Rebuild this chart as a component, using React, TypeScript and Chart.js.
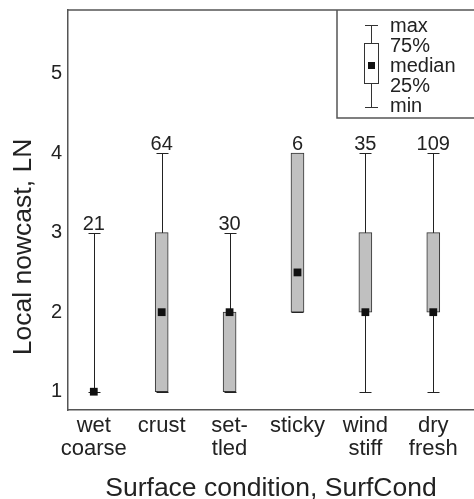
import React, { useEffect, useRef } from "react";
import { Chart, registerables } from "chart.js";

Chart.register(...registerables);

// ---- data ----
const categories: string[][] = [
  ["wet", "coarse"],
  ["crust"],
  ["set-", "tled"],
  ["sticky"],
  ["wind", "stiff"],
  ["dry", "fresh"],
];
const minValues = [1, 1, 1, 2, 1, 1];
const q1Values = [1, 1, 1, 2, 2, 2];
const medianValues = [1, 2, 2, 2.5, 2, 2];
const q3Values = [1, 3, 2, 4, 3, 3];
const maxValues = [3, 4, 3, 4, 4, 4];
const counts = [21, 64, 30, 6, 35, 109];
const yTicks = [1, 2, 3, 4, 5];
const legendLabels = ["max", "75%", "median", "25%", "min"];
const xTitle = "Surface condition, SurfCond";
const yTitle = "Local nowcast, LN";

const FONT = "'Liberation Sans', Arial, sans-serif";
const TEXT = "#222";
const FRAME = "#555";

const boxPlugin = {
  id: "boxExtras",
  beforeDatasetsDraw(chart: any) {
    const { ctx, scales } = chart;
    const xs = scales.x;
    const ys = scales.y;
    ctx.save();
    ctx.strokeStyle = "#222";
    ctx.lineWidth = 1;
    categories.forEach((_, i) => {
      const x = Math.round(xs.getPixelForValue(i)) + 0.5;
      const yMin = Math.round(ys.getPixelForValue(minValues[i])) + 0.5;
      const yMax = Math.round(ys.getPixelForValue(maxValues[i])) + 0.5;
      ctx.beginPath();
      ctx.moveTo(x, yMin);
      ctx.lineTo(x, yMax);
      ctx.moveTo(x - 6, yMin);
      ctx.lineTo(x + 6, yMin);
      ctx.moveTo(x - 6, yMax);
      ctx.lineTo(x + 6, yMax);
      ctx.stroke();
    });
    ctx.restore();
  },
  afterDatasetsDraw(chart: any) {
    const { ctx, scales } = chart;
    const xs = scales.x;
    const ys = scales.y;
    ctx.save();
    ctx.fillStyle = TEXT;
    ctx.font = `20px ${FONT}`;
    ctx.textAlign = "center";
    ctx.textBaseline = "alphabetic";
    categories.forEach((_, i) => {
      const x = xs.getPixelForValue(i);
      const y = ys.getPixelForValue(maxValues[i]) - 3;
      ctx.fillText(String(counts[i]), x, y);
    });
    ctx.restore();
  },
  afterDraw(chart: any) {
    const { ctx, chartArea } = chart;
    ctx.save();
    // top frame line
    ctx.strokeStyle = FRAME;
    ctx.lineWidth = 1.5;
    ctx.beginPath();
    ctx.moveTo(chartArea.left, chartArea.top);
    ctx.lineTo(chartArea.right, chartArea.top);
    ctx.stroke();

    // legend box
    const lx = 337;
    const lb = 118;
    ctx.beginPath();
    ctx.moveTo(lx, chartArea.top);
    ctx.lineTo(lx, lb);
    ctx.lineTo(chartArea.right, lb);
    ctx.stroke();

    // legend glyph
    const cx = 371.5;
    ctx.strokeStyle = "#333";
    ctx.lineWidth = 1;
    ctx.beginPath();
    ctx.moveTo(cx, 25.5);
    ctx.lineTo(cx, 107.5);
    ctx.moveTo(cx - 6.5, 25.5);
    ctx.lineTo(cx + 6.5, 25.5);
    ctx.moveTo(cx - 6.5, 107.5);
    ctx.lineTo(cx + 6.5, 107.5);
    ctx.stroke();
    ctx.fillStyle = "#fff";
    ctx.fillRect(364.5, 43.5, 14, 40);
    ctx.strokeRect(364.5, 43.5, 14, 40);
    ctx.fillStyle = "#111";
    ctx.fillRect(368, 62, 7, 7);

    ctx.fillStyle = TEXT;
    ctx.font = `20px ${FONT}`;
    ctx.textAlign = "left";
    ctx.textBaseline = "alphabetic";
    legendLabels.forEach((t, i) => {
      ctx.fillText(t, 390, 32 + i * 20);
    });

    // y axis title
    ctx.font = `26.5px ${FONT}`;
    ctx.textAlign = "center";
    ctx.translate(31, 247);
    ctx.rotate(-Math.PI / 2);
    ctx.fillText(yTitle, 0, 0);
    ctx.restore();
  },
};

export default function App() {
  const ref = useRef<HTMLCanvasElement>(null);
  useEffect(() => {
    document.body.style.margin = "0";
    document.body.style.overflow = "hidden";
    Chart.defaults.font.family = FONT;
    const chart = new Chart(ref.current as HTMLCanvasElement, {
      type: "bar",
      data: {
        datasets: [
          {
            type: "scatter",
            data: medianValues.map((m, i) => ({ x: i, y: m })),
            pointStyle: "rect",
            pointRadius: 5.5,
            pointHoverRadius: 5.5,
            backgroundColor: "#111",
            borderWidth: 0,
            order: 0,
          } as any,
          {
            type: "bar",
            data: categories.map((_, i) => ({ x: i, y: [q1Values[i], q3Values[i]] })),
            backgroundColor: "#c0c0c0",
            borderColor: "#333",
            borderWidth: 1,
            borderSkipped: false,
            barThickness: 13,
            order: 1,
          } as any,
        ],
      },
      options: {
        animation: false,
        responsive: false,
        layout: { autoPadding: false, padding: { top: 10, left: 0, right: 0, bottom: 0 } },
        plugins: { legend: { display: false }, tooltip: { enabled: false } },
        scales: {
          x: {
            type: "linear",
            offset: false,
            min: -0.38,
            max: 5.6,
            afterBuildTicks: (ax: any) => {
              ax.ticks = categories.map((_, i) => ({ value: i }));
            },
            afterFit: (ax: any) => {
              ax.height = 89;
              ax.paddingRight = 0;
              ax.paddingLeft = 0;
            },
            ticks: {
              callback: (_v: any, i: number) => categories[i],
              font: { size: 22, lineHeight: 1.05 },
              color: TEXT,
              padding: 4,
              maxRotation: 0,
              autoSkip: false,
            },
            grid: { display: false, drawTicks: false, tickLength: 0, offset: false },
            border: { display: true, color: FRAME, width: 1.5 },
            title: {
              display: true,
              text: xTitle,
              font: { size: 26.5, lineHeight: 1 },
              color: TEXT,
              padding: { top: 0, bottom: -3 },
            },
          },
          y: {
            type: "linear",
            min: 0.77,
            max: 5.8,
            afterBuildTicks: (ax: any) => {
              ax.ticks = yTicks.map((v) => ({ value: v }));
            },
            afterFit: (ax: any) => {
              ax.width = 68;
              ax.paddingTop = 0;
              ax.paddingBottom = 0;
            },
            ticks: { font: { size: 20 }, color: TEXT, padding: 6 },
            grid: { display: false, drawTicks: false, tickLength: 0 },
            border: { display: true, color: FRAME, width: 1.5 },
          },
        },
      },
      plugins: [boxPlugin],
    } as any);
    return () => chart.destroy();
  }, []);
  return (
    <div style={{ width: 474, height: 499 }}>
      <canvas ref={ref} width={474} height={499} style={{ display: "block" }} />
    </div>
  );
}
